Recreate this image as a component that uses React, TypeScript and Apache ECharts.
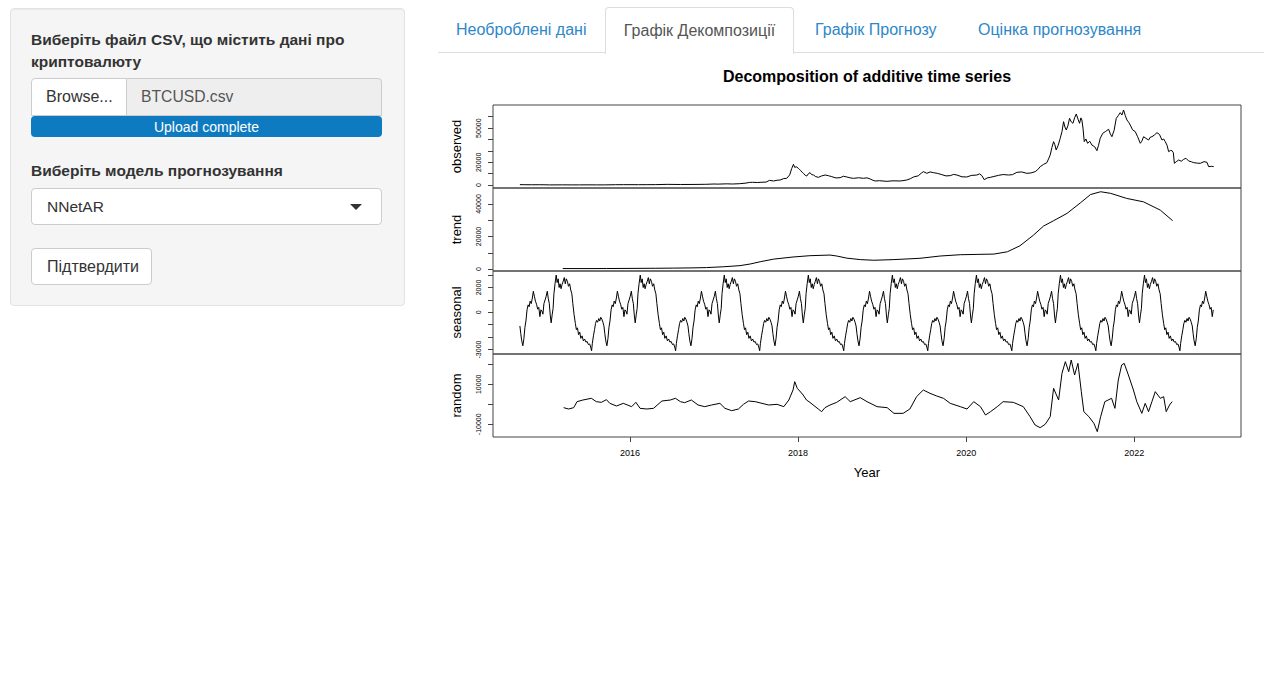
import React, { useEffect, useRef } from "react";
import * as echarts from "echarts";

// ---------- data ----------
// time in decimal years, values in USD
const observedPoints: [number, number][] = [
  [2014.69, 460], [2014.75, 380], [2014.83, 350], [2014.92, 370], [2015.0, 320], [2015.04, 220],
  [2015.12, 240], [2015.2, 270], [2015.3, 230], [2015.4, 240], [2015.5, 280], [2015.6, 230],
  [2015.7, 240], [2015.83, 380], [2015.92, 430], [2016.0, 430], [2016.1, 400], [2016.2, 420],
  [2016.3, 450], [2016.45, 700], [2016.5, 650], [2016.6, 580], [2016.75, 620], [2016.9, 740],
  [2017.0, 1000], [2017.05, 900], [2017.15, 1150], [2017.22, 1000], [2017.3, 1250], [2017.38, 1800],
  [2017.42, 2400], [2017.46, 2500], [2017.52, 2300], [2017.548, 2470], [2017.62, 2700],
  [2017.66, 4200], [2017.707, 3640], [2017.75, 4300], [2017.786, 4500], [2017.83, 5800],
  [2017.865, 5980], [2017.9, 9000], [2017.925, 14750], [2017.945, 18260], [2017.96, 15500],
  [2017.977, 16200], [2018.004, 14750], [2018.02, 13500], [2018.032, 12700], [2018.05, 11200],
  [2018.064, 10360], [2018.085, 8600], [2018.103, 8000], [2018.125, 10200], [2018.143, 10950],
  [2018.16, 9300], [2018.183, 8900], [2018.21, 7500], [2018.242, 6860], [2018.28, 8100],
  [2018.322, 8900], [2018.36, 8300], [2018.401, 7440], [2018.45, 6300], [2018.5, 6560],
  [2018.54, 7800], [2018.58, 7150], [2018.62, 6400], [2018.659, 5980], [2018.72, 6500],
  [2018.778, 6000], [2018.82, 6400], [2018.858, 5400], [2018.89, 4300], [2018.917, 3640],
  [2018.97, 3900], [2019.056, 3350], [2019.13, 3800], [2019.215, 3640], [2019.26, 4100],
  [2019.294, 4520], [2019.34, 5800], [2019.373, 7150], [2019.43, 8200], [2019.47, 10800],
  [2019.492, 11830], [2019.532, 10360], [2019.57, 11600], [2019.611, 10950], [2019.66, 10300],
  [2019.711, 9200], [2019.76, 8100], [2019.81, 8330], [2019.85, 9400], [2019.889, 8900],
  [2019.95, 7300], [2020.008, 7150], [2020.06, 8500], [2020.127, 8900], [2020.16, 9900],
  [2020.187, 8330], [2020.215, 4810], [2020.25, 6300], [2020.286, 6860], [2020.33, 7600],
  [2020.385, 8600], [2020.44, 9300], [2020.504, 8900], [2020.55, 9200], [2020.603, 11240],
  [2020.66, 11600], [2020.722, 10360], [2020.77, 10700], [2020.821, 11830], [2020.85, 13500],
  [2020.881, 16200], [2020.92, 18200], [2020.96, 19700], [2020.98, 23000], [2021.0, 26460],
  [2021.02, 33000], [2021.04, 38150], [2021.055, 35500], [2021.071, 30850], [2021.095, 35000],
  [2021.119, 41070], [2021.14, 47000], [2021.159, 55700], [2021.175, 51000], [2021.191, 48380],
  [2021.21, 52000], [2021.23, 58620], [2021.25, 55500], [2021.27, 54230], [2021.29, 59000],
  [2021.31, 62420], [2021.33, 58000], [2021.349, 54230], [2021.365, 59000], [2021.377, 57150],
  [2021.39, 50000], [2021.405, 38150], [2021.425, 40500], [2021.445, 36700], [2021.47, 38500],
  [2021.496, 35200], [2021.53, 33600], [2021.556, 30250], [2021.575, 35000], [2021.595, 41070],
  [2021.625, 45500], [2021.655, 46910], [2021.675, 48000], [2021.695, 49000], [2021.715, 45000],
  [2021.734, 42500], [2021.76, 48000], [2021.786, 58620], [2021.81, 61000], [2021.833, 63580],
  [2021.853, 61500], [2021.873, 65920], [2021.893, 61000], [2021.913, 57150], [2021.935, 55000],
  [2021.952, 52770], [2021.98, 48500], [2022.012, 46910], [2022.04, 42500], [2022.072, 36700],
  [2022.09, 38500], [2022.111, 42500], [2022.14, 41000], [2022.171, 39580], [2022.19, 42000],
  [2022.211, 42500], [2022.24, 44000], [2022.27, 46030], [2022.3, 44500], [2022.33, 39580],
  [2022.35, 40500], [2022.369, 38150], [2022.39, 35000], [2022.409, 29370], [2022.43, 30400],
  [2022.449, 30250], [2022.465, 28500], [2022.477, 19150], [2022.5, 20600], [2022.528, 22070],
  [2022.56, 21000], [2022.588, 22660], [2022.615, 23600], [2022.647, 21200], [2022.68, 20500],
  [2022.707, 19740], [2022.75, 19300], [2022.786, 19150], [2022.83, 20600], [2022.865, 20030],
  [2022.885, 16230], [2022.92, 16500], [2022.945, 16230],
];

const trendPoints: [number, number][] = [
  [2015.2, 300], [2015.5, 280], [2015.72, 320], [2016.0, 400], [2016.3, 480], [2016.52, 580],
  [2016.75, 720], [2016.91, 900], [2017.11, 1400], [2017.31, 2100], [2017.43, 3100],
  [2017.55, 4500], [2017.71, 6100], [2017.94, 7400], [2018.14, 8200], [2018.38, 8600],
  [2018.46, 8000], [2018.58, 6700], [2018.74, 5800], [2018.9, 5400], [2019.14, 5800],
  [2019.45, 6600], [2019.69, 8000], [2019.93, 8800], [2020.13, 9000], [2020.33, 9200],
  [2020.49, 10600], [2020.64, 14300], [2020.8, 20800], [2020.92, 26400], [2021.04, 29700],
  [2021.2, 34200], [2021.36, 40700], [2021.48, 45800], [2021.6, 47500], [2021.72, 46500],
  [2021.91, 43400], [2022.11, 41300], [2022.31, 36200], [2022.457, 29700],
];

// one period (fraction of a year since the first observation) of the seasonal figure
const seasonalStart = 2014.69;
const seasonalEnd = 2022.945;
const seasonalFigure: [number, number][] = [
  [0.0, -1100], [0.01, -1700], [0.022, -2300], [0.035, -2700], [0.048, -2100], [0.06, -1200],
  [0.072, -700], [0.085, 200], [0.098, 600], [0.11, 450], [0.122, 900], [0.135, 700],
  [0.148, 1150], [0.16, 1700], [0.172, 1300], [0.185, 900], [0.198, 650], [0.212, 250],
  [0.225, 400], [0.238, -350], [0.25, 200], [0.262, 100], [0.274, -150], [0.286, 700],
  [0.3, 1000], [0.313, 1300], [0.326, 1700], [0.338, 1100], [0.35, 700], [0.362, -300],
  [0.372, -850], [0.384, -200], [0.395, 300], [0.405, 1500], [0.418, 2300], [0.432, 3000],
  [0.443, 2400], [0.455, 2700], [0.467, 2000], [0.478, 2300], [0.49, 1900], [0.502, 2250],
  [0.515, 2500], [0.528, 2800], [0.54, 2300], [0.552, 2700], [0.565, 2500], [0.578, 2100],
  [0.592, 2300], [0.605, 1800], [0.618, 1500], [0.63, 700], [0.645, -200], [0.66, -900],
  [0.672, -1400], [0.685, -1250], [0.698, -1800], [0.712, -1600], [0.725, -2100], [0.74, -1900],
  [0.755, -2300], [0.77, -2150], [0.785, -2400], [0.8, -2350], [0.815, -2600], [0.83, -2550],
  [0.842, -2800], [0.853, -3100], [0.862, -2500], [0.875, -1900], [0.888, -1400], [0.9, -900],
  [0.912, -650], [0.925, -800], [0.938, -500], [0.95, -700], [0.962, -400], [0.975, -550],
  [0.988, -800],
];

const randomPoints: [number, number][] = [
  [2015.21, -1680], [2015.27, -2350], [2015.33, -1680], [2015.37, 1320], [2015.44, 2150],
  [2015.54, 3000], [2015.6, 1320], [2015.66, 980], [2015.72, 2320], [2015.76, 480],
  [2015.84, -850], [2015.92, 480], [2016.02, -1180], [2016.07, 980], [2016.12, -2020],
  [2016.2, -2350], [2016.28, -2020], [2016.38, 1650], [2016.48, 2150], [2016.54, 3000],
  [2016.6, 1320], [2016.65, 820], [2016.73, 2150], [2016.81, -350], [2016.89, -1180],
  [2016.97, -350], [2017.07, 480], [2017.13, -2020], [2017.21, -3180], [2017.29, -2350],
  [2017.35, -20], [2017.41, 1650], [2017.49, 1320], [2017.57, 480], [2017.65, -350],
  [2017.75, -20], [2017.83, -1180], [2017.89, 2150], [2017.94, 7150], [2017.96, 11320],
  [2017.99, 7980], [2018.02, 6650], [2018.06, 4650], [2018.1, 2150], [2018.14, 980],
  [2018.19, -680], [2018.24, -2350], [2018.28, -3680], [2018.32, -1680], [2018.38, -350],
  [2018.46, 980], [2018.56, 3820], [2018.62, 1320], [2018.74, 3320], [2018.82, 1320],
  [2018.94, -1180], [2019.06, -1680], [2019.14, -4520], [2019.25, -4520], [2019.33, -2350],
  [2019.41, 3820], [2019.49, 7150], [2019.57, 5480], [2019.65, 4150], [2019.73, 3000],
  [2019.81, 480], [2019.93, -1180], [2020.01, -2350], [2020.09, 1320], [2020.17, -1180],
  [2020.23, -5350], [2020.29, -3680], [2020.37, -1180], [2020.44, 1320], [2020.56, 980],
  [2020.68, -1180], [2020.76, -6180], [2020.82, -10350], [2020.88, -11680], [2020.94, -10020],
  [2021.0, -6180], [2021.04, 7980], [2021.1, 2150], [2021.14, 15480], [2021.18, 21320],
  [2021.22, 16320], [2021.25, 22150], [2021.29, 14650], [2021.33, 20480], [2021.37, 6320],
  [2021.4, -3680], [2021.46, -6180], [2021.52, -9520], [2021.56, -13680], [2021.6, -6180],
  [2021.65, 1320], [2021.73, 3000], [2021.77, -2020], [2021.81, 12150], [2021.85, 19650],
  [2021.88, 20480], [2021.93, 14650], [2021.99, 7150], [2022.03, 1320], [2022.09, -4520],
  [2022.13, 480], [2022.17, -3680], [2022.21, 1320], [2022.25, 6320], [2022.31, 3000],
  [2022.35, 3820], [2022.38, -3680], [2022.42, -350], [2022.45, 1320],
];

const panelNames = ["observed", "trend", "seasonal", "random"];
const yMins = [-2500, -1200, -3360, -16350];
const yMaxs = [70300, 49800, 3330, 25150];
const yTickValues = [
  [0, 10000, 20000, 30000, 40000, 50000, 60000],
  [0, 10000, 20000, 30000, 40000],
  [-3000, -2000, -1000, 0, 1000, 2000, 3000],
  [-10000, 0, 10000, 20000],
];
const yLabelValues = [
  [0, 20000, 50000],
  [0, 20000, 40000],
  [-3000, 0, 2000],
  [-10000, 10000],
];
const xTickValues = [2016, 2018, 2020, 2022];
const xMin = 2014.37;
const xMax = 2023.27;
const chartTitle = "Decomposition of additive time series";
const xName = "Year";

const FONT = "'Liberation Sans', Arial, Helvetica, sans-serif";

function buildSeasonal(): [number, number][] {
  const out: [number, number][] = [];
  for (let k = 0; k < 10; k++) {
    for (const [p, v] of seasonalFigure) {
      const t = seasonalStart + k + p;
      if (t <= seasonalEnd) out.push([t, v]);
    }
  }
  return out;
}

function Chart() {
  const ref = useRef<HTMLDivElement>(null);
  useEffect(() => {
    if (!ref.current) return;
    const chart = echarts.init(ref.current, null, { renderer: "svg" });
    const tops = [49, 132, 215, 298];
    const seriesData = [observedPoints, trendPoints, buildSeasonal(), randomPoints];
    const grids = tops.map((top) => ({
      left: 55,
      top,
      width: 748,
      height: 83,
      show: true,
      borderColor: "#444",
      borderWidth: 1,
      backgroundColor: "transparent",
      containLabel: false,
    }));
    const xAxes = tops.map((_, i) => {
      const last = i === 3;
      return {
        type: "value",
        gridIndex: i,
        min: xMin,
        max: xMax,
        show: last,
        position: "bottom",
        name: last ? xName : "",
        nameLocation: "middle",
        nameGap: 29,
        nameTextStyle: { fontSize: 13, color: "#000", fontFamily: FONT },
        axisLine: { show: false, onZero: false },
        splitLine: { show: false },
        axisTick: {
          show: last,
          length: 5,
          lineStyle: { color: "#444" },
          customValues: xTickValues,
        },
        axisLabel: {
          show: last,
          fontSize: 9,
          color: "#000",
          fontFamily: FONT,
          margin: 11,
          customValues: xTickValues,
          formatter: (v: number) => String(Math.round(v)),
        },
      };
    });
    const yAxes = tops.map((_, i) => ({
      type: "value",
      gridIndex: i,
      min: yMins[i],
      max: yMaxs[i],
      name: panelNames[i],
      nameLocation: "middle",
      nameRotate: 90,
      nameGap: 30,
      nameTextStyle: { fontSize: 13, color: "#000", fontFamily: FONT },
      axisLine: { show: false, onZero: false },
      splitLine: { show: false },
      axisTick: {
        show: true,
        length: 5,
        lineStyle: { color: "#444" },
        customValues: yTickValues[i],
      },
      axisLabel: {
        show: true,
        rotate: 90,
        fontSize: 7,
        color: "#000",
        fontFamily: FONT,
        margin: 11,
        customValues: yLabelValues[i],
        formatter: (v: number) => String(Math.round(v)),
      },
    }));
    const series = seriesData.map((d, i) => ({
      type: "line",
      xAxisIndex: i,
      yAxisIndex: i,
      data: d,
      showSymbol: false,
      symbol: "none",
      lineStyle: { color: "#000", width: 1 },
      silent: true,
    }));
    chart.setOption({
      animation: false,
      backgroundColor: "#fff",
      textStyle: { fontFamily: FONT },
      grid: grids,
      xAxis: xAxes,
      yAxis: yAxes,
      series,
      graphic: [
        {
          type: "text",
          x: 429,
          y: 20,
          style: {
            text: chartTitle,
            textAlign: "center",
            textVerticalAlign: "middle",
            font: `bold 16px ${FONT}`,
            fill: "#000",
          },
        },
      ],
    });
    return () => chart.dispose();
  }, []);
  return (
    <div
      ref={ref}
      style={{ position: "absolute", left: 438, top: 56, width: 830, height: 440 }}
    />
  );
}

const box = (extra: React.CSSProperties): React.CSSProperties => ({
  position: "absolute",
  boxSizing: "border-box",
  display: "flex",
  alignItems: "center",
  whiteSpace: "nowrap",
  ...extra,
});

export default function App() {
  const linkColor = "#2d87c8";
  return (
    <div
      style={{
        position: "fixed",
        left: 0,
        top: 0,
        width: 1268,
        height: 691,
        background: "#fff",
        fontFamily: FONT,
        color: "#333",
        overflow: "hidden",
      }}
    >
      {/* sidebar well */}
      <div
        style={{
          position: "absolute",
          left: 10,
          top: 8,
          width: 395,
          height: 298,
          boxSizing: "border-box",
          background: "#f5f5f5",
          border: "1px solid #e3e3e3",
          borderRadius: 4,
          boxShadow: "inset 0 1px 1px rgba(0,0,0,0.05)",
        }}
      />
      <div
        style={{
          position: "absolute",
          left: 31,
          top: 29,
          width: 345,
          fontWeight: "bold",
          fontSize: 15.5,
          lineHeight: "22px",
        }}
      >
        Виберіть файл CSV, що містить дані про криптовалюту
      </div>
      <div
        style={box({
          left: 31,
          top: 78,
          width: 96,
          height: 38,
          background: "#fff",
          border: "1px solid #ccc",
          borderRadius: "4px 0 0 0",
          paddingLeft: 14,
          fontSize: 16,
        })}
      >
        Browse...
      </div>
      <div
        style={box({
          left: 126,
          top: 78,
          width: 256,
          height: 38,
          background: "#eee",
          border: "1px solid #ccc",
          borderRadius: "0 4px 0 0",
          paddingLeft: 14,
          fontSize: 15.7,
          color: "#555",
        })}
      >
        BTCUSD.csv
      </div>
      <div
        style={box({
          left: 31,
          top: 116,
          width: 351,
          height: 21,
          background: "#0e7bc1",
          borderRadius: 4,
          justifyContent: "center",
          color: "#fff",
          fontSize: 14,
        })}
      >
        Upload complete
      </div>
      <div
        style={{
          position: "absolute",
          left: 31,
          top: 160,
          fontWeight: "bold",
          fontSize: 15.5,
          lineHeight: "22px",
          whiteSpace: "nowrap",
        }}
      >
        Виберіть модель прогнозування
      </div>
      <div
        style={box({
          left: 31,
          top: 188,
          width: 351,
          height: 37,
          background: "#fff",
          border: "1px solid #ccc",
          borderRadius: 4,
          paddingLeft: 15,
          fontSize: 15.5,
        })}
      >
        NNetAR
        <div
          style={{
            position: "absolute",
            left: 318,
            top: 15,
            width: 0,
            height: 0,
            borderLeft: "6px solid transparent",
            borderRight: "6px solid transparent",
            borderTop: "6px solid #333",
          }}
        />
      </div>
      <div
        style={box({
          left: 31,
          top: 248,
          width: 121,
          height: 37,
          background: "#fff",
          border: "1px solid #ccc",
          borderRadius: 4,
          paddingLeft: 15,
          fontSize: 16,
        })}
      >
        Підтвердити
      </div>

      {/* tabs */}
      <div
        style={{
          position: "absolute",
          left: 438,
          top: 52,
          width: 826,
          height: 0,
          borderTop: "1px solid #ddd",
        }}
      />
      <div
        style={box({
          left: 605,
          top: 7,
          width: 189,
          height: 47,
          background: "#fff",
          border: "1px solid #ddd",
          borderBottom: "none",
          borderRadius: "4px 4px 0 0",
          justifyContent: "center",
          fontSize: 16,
          color: "#555",
          paddingBottom: 1,
        })}
      >
        Графік Декомпозиції
      </div>
      <div style={box({ left: 456, top: 7, height: 45, fontSize: 16, color: linkColor })}>
        Необроблені дані
      </div>
      <div style={box({ left: 815, top: 7, height: 45, fontSize: 16, color: linkColor })}>
        Графік Прогнозу
      </div>
      <div style={box({ left: 978, top: 7, height: 45, fontSize: 16, color: linkColor })}>
        Оцінка прогнозування
      </div>

      <Chart />
    </div>
  );
}
